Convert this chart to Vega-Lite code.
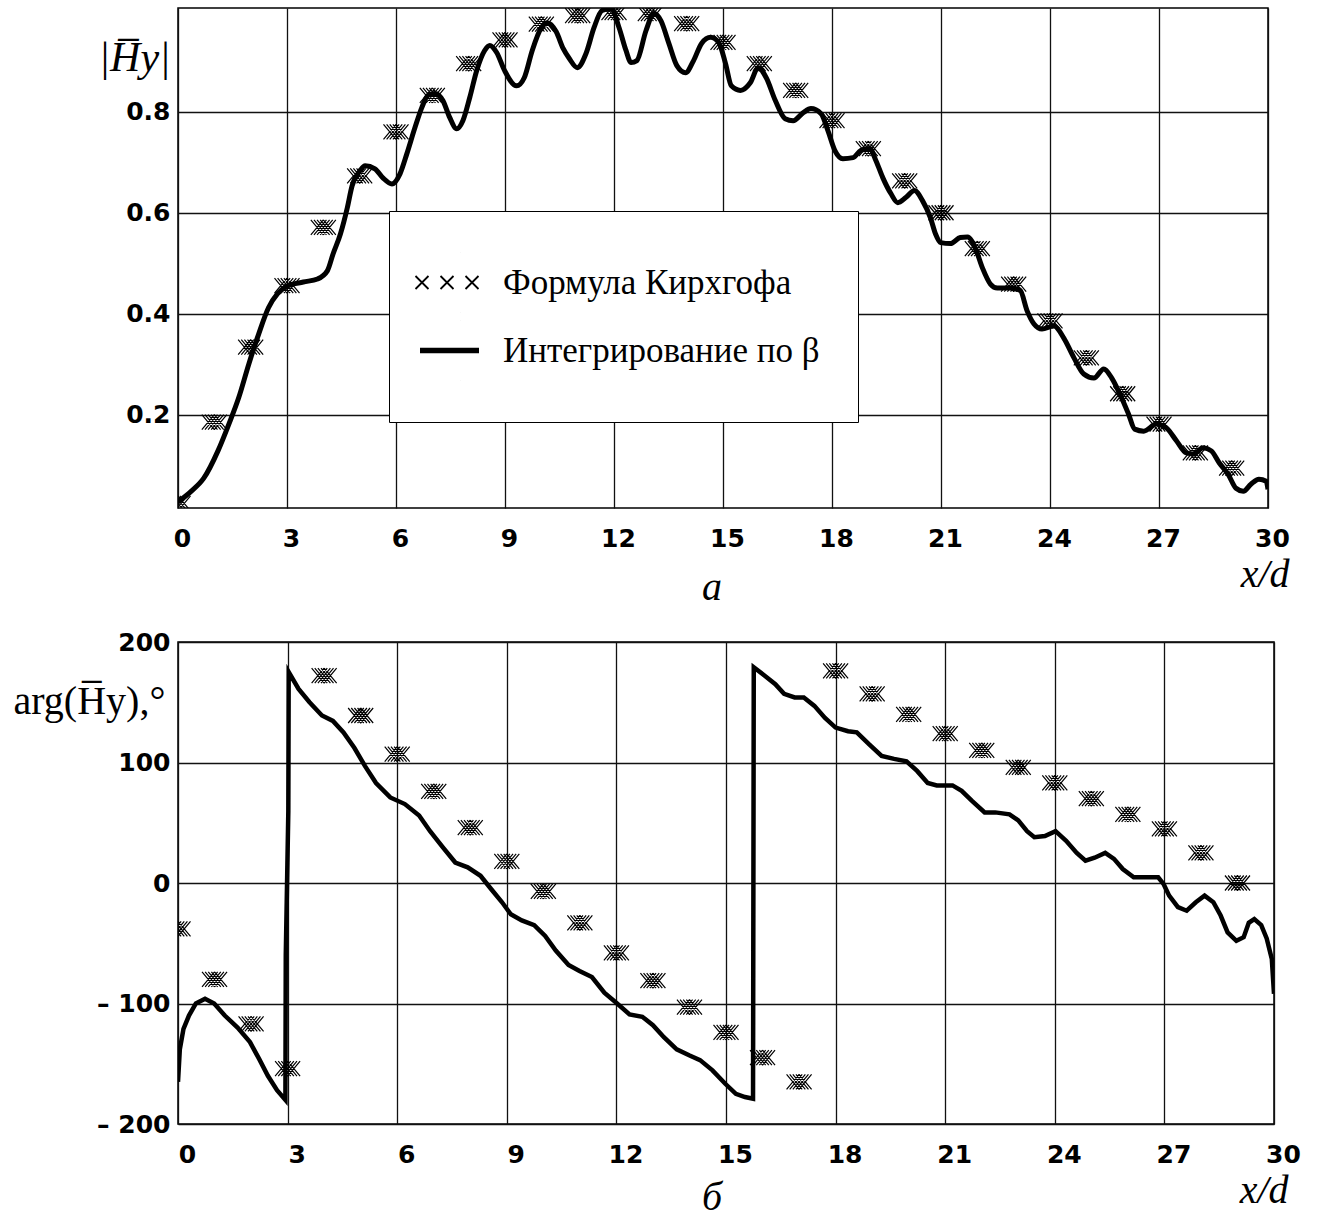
{
  "$schema": "https://vega.github.io/schema/vega-lite/v6.json",
  "background": "white",
  "padding": {"left": 12, "top": 7, "right": 5, "bottom": 0},
  "bounds": "flush",
  "spacing": 134,
  "datasets": {
    "kirch_top": [
      {"x": 0, "v": 0.025}, {"x": 1, "v": 0.186}, {"x": 2, "v": 0.334}, {"x": 3, "v": 0.456}, {"x": 4, "v": 0.571},
      {"x": 5, "v": 0.673}, {"x": 6, "v": 0.760}, {"x": 7, "v": 0.832}, {"x": 8, "v": 0.895}, {"x": 9, "v": 0.942},
      {"x": 10, "v": 0.973}, {"x": 11, "v": 0.990}, {"x": 12, "v": 0.996}, {"x": 13, "v": 0.994}, {"x": 14, "v": 0.974},
      {"x": 15, "v": 0.937}, {"x": 16, "v": 0.895}, {"x": 17, "v": 0.842}, {"x": 18, "v": 0.782}, {"x": 19, "v": 0.727},
      {"x": 20, "v": 0.663}, {"x": 21, "v": 0.600}, {"x": 22, "v": 0.529}, {"x": 23, "v": 0.459}, {"x": 24, "v": 0.386},
      {"x": 25, "v": 0.313}, {"x": 26, "v": 0.242}, {"x": 27, "v": 0.182}, {"x": 28, "v": 0.125}, {"x": 29, "v": 0.095}
    ],
    "curve_top": [
      {"x": 0.0, "v": 0.028}, {"x": 0.36, "v": 0.049}, {"x": 0.71, "v": 0.075}, {"x": 1.10, "v": 0.129}, {"x": 1.40, "v": 0.182},
      {"x": 1.67, "v": 0.234}, {"x": 1.95, "v": 0.301}, {"x": 2.22, "v": 0.360}, {"x": 2.49, "v": 0.412}, {"x": 2.74, "v": 0.440},
      {"x": 3.01, "v": 0.455}, {"x": 3.45, "v": 0.463}, {"x": 3.84, "v": 0.469}, {"x": 4.11, "v": 0.485}, {"x": 4.27, "v": 0.519},
      {"x": 4.47, "v": 0.558}, {"x": 4.66, "v": 0.610}, {"x": 4.79, "v": 0.653}, {"x": 5.01, "v": 0.683}, {"x": 5.15, "v": 0.693},
      {"x": 5.42, "v": 0.687}, {"x": 5.64, "v": 0.669}, {"x": 5.89, "v": 0.657}, {"x": 6.11, "v": 0.677}, {"x": 6.30, "v": 0.717},
      {"x": 6.52, "v": 0.768}, {"x": 6.71, "v": 0.808}, {"x": 6.88, "v": 0.832}, {"x": 7.07, "v": 0.836}, {"x": 7.29, "v": 0.822},
      {"x": 7.48, "v": 0.788}, {"x": 7.67, "v": 0.766}, {"x": 7.84, "v": 0.782}, {"x": 8.03, "v": 0.828}, {"x": 8.22, "v": 0.881},
      {"x": 8.44, "v": 0.921}, {"x": 8.58, "v": 0.931}, {"x": 8.77, "v": 0.917}, {"x": 8.99, "v": 0.881}, {"x": 9.32, "v": 0.851},
      {"x": 9.53, "v": 0.867}, {"x": 9.75, "v": 0.921}, {"x": 10.0, "v": 0.966}, {"x": 10.16, "v": 0.976}, {"x": 10.41, "v": 0.958},
      {"x": 10.6, "v": 0.925}, {"x": 10.77, "v": 0.905}, {"x": 10.99, "v": 0.887}, {"x": 11.23, "v": 0.915}, {"x": 11.45, "v": 0.966},
      {"x": 11.67, "v": 1.0}, {"x": 11.92, "v": 1.004}, {"x": 12.14, "v": 0.966}, {"x": 12.33, "v": 0.921}, {"x": 12.47, "v": 0.897},
      {"x": 12.63, "v": 0.901}, {"x": 12.88, "v": 0.960}, {"x": 13.10, "v": 0.994}, {"x": 13.29, "v": 0.980}, {"x": 13.51, "v": 0.935},
      {"x": 13.73, "v": 0.891}, {"x": 13.97, "v": 0.877}, {"x": 14.19, "v": 0.901}, {"x": 14.41, "v": 0.935}, {"x": 14.66, "v": 0.947},
      {"x": 14.88, "v": 0.937}, {"x": 15.07, "v": 0.895}, {"x": 15.23, "v": 0.851}, {"x": 15.48, "v": 0.842}, {"x": 15.75, "v": 0.857},
      {"x": 15.97, "v": 0.887}, {"x": 16.19, "v": 0.867}, {"x": 16.44, "v": 0.822}, {"x": 16.71, "v": 0.786}, {"x": 16.93, "v": 0.782},
      {"x": 17.21, "v": 0.798}, {"x": 17.42, "v": 0.806}, {"x": 17.70, "v": 0.796}, {"x": 17.89, "v": 0.762}, {"x": 18.08, "v": 0.723},
      {"x": 18.30, "v": 0.707}, {"x": 18.58, "v": 0.709}, {"x": 18.79, "v": 0.723}, {"x": 19.04, "v": 0.727}, {"x": 19.21, "v": 0.703},
      {"x": 19.40, "v": 0.669}, {"x": 19.62, "v": 0.638}, {"x": 19.81, "v": 0.620}, {"x": 20.03, "v": 0.630}, {"x": 20.27, "v": 0.644},
      {"x": 20.49, "v": 0.624}, {"x": 20.71, "v": 0.590}, {"x": 20.85, "v": 0.558}, {"x": 20.99, "v": 0.541}, {"x": 21.26, "v": 0.539},
      {"x": 21.53, "v": 0.551}, {"x": 21.73, "v": 0.552}, {"x": 21.95, "v": 0.529}, {"x": 22.14, "v": 0.491}, {"x": 22.36, "v": 0.459},
      {"x": 22.55, "v": 0.451}, {"x": 22.90, "v": 0.451}, {"x": 23.18, "v": 0.446}, {"x": 23.37, "v": 0.406}, {"x": 23.56, "v": 0.380},
      {"x": 23.78, "v": 0.370}, {"x": 24.11, "v": 0.376}, {"x": 24.38, "v": 0.352}, {"x": 24.66, "v": 0.313}, {"x": 24.93, "v": 0.281},
      {"x": 25.21, "v": 0.273}, {"x": 25.48, "v": 0.291}, {"x": 25.70, "v": 0.273}, {"x": 25.92, "v": 0.242}, {"x": 26.16, "v": 0.202},
      {"x": 26.33, "v": 0.172}, {"x": 26.58, "v": 0.168}, {"x": 26.93, "v": 0.182}, {"x": 27.21, "v": 0.174}, {"x": 27.48, "v": 0.149},
      {"x": 27.75, "v": 0.125}, {"x": 27.95, "v": 0.123}, {"x": 28.22, "v": 0.135}, {"x": 28.44, "v": 0.129}, {"x": 28.66, "v": 0.105},
      {"x": 28.90, "v": 0.083}, {"x": 29.12, "v": 0.055}, {"x": 29.32, "v": 0.049}, {"x": 29.53, "v": 0.063}, {"x": 29.75, "v": 0.073},
      {"x": 29.95, "v": 0.069}, {"x": 30.0, "v": 0.053}
    ],
    "kirch_bot": [
      {"x": 0, "v": -38}, {"x": 1, "v": -80}, {"x": 2, "v": -117}, {"x": 3, "v": -154}, {"x": 4, "v": 172},
      {"x": 5, "v": 139}, {"x": 6, "v": 107}, {"x": 7, "v": 76}, {"x": 8, "v": 46}, {"x": 9, "v": 18},
      {"x": 10, "v": -7}, {"x": 11, "v": -33}, {"x": 12, "v": -58}, {"x": 13, "v": -81}, {"x": 14, "v": -103},
      {"x": 15, "v": -124}, {"x": 16, "v": -145}, {"x": 17, "v": -165}, {"x": 18, "v": 176}, {"x": 19, "v": 157},
      {"x": 20, "v": 140}, {"x": 21, "v": 124}, {"x": 22, "v": 110}, {"x": 23, "v": 96}, {"x": 24, "v": 83},
      {"x": 25, "v": 70}, {"x": 26, "v": 57}, {"x": 27, "v": 45}, {"x": 28, "v": 25}, {"x": 29, "v": 0}
    ],
    "curve_bot": [
      {"x": 0.0, "v": -165}, {"x": 0.05, "v": -138}, {"x": 0.15, "v": -121}, {"x": 0.3, "v": -110}, {"x": 0.49, "v": -100},
      {"x": 0.74, "v": -96}, {"x": 0.99, "v": -100}, {"x": 1.28, "v": -110}, {"x": 1.63, "v": -120}, {"x": 1.97, "v": -132},
      {"x": 2.22, "v": -146}, {"x": 2.46, "v": -160}, {"x": 2.71, "v": -172}, {"x": 2.94, "v": -180}, {"x": 2.95, "v": -60},
      {"x": 3.02, "v": 60}, {"x": 3.03, "v": 175}, {"x": 3.3, "v": 161}, {"x": 3.6, "v": 150}, {"x": 3.94, "v": 139},
      {"x": 4.24, "v": 134.5}, {"x": 4.53, "v": 125}, {"x": 4.83, "v": 112}, {"x": 5.12, "v": 97}, {"x": 5.42, "v": 83},
      {"x": 5.81, "v": 71}, {"x": 6.21, "v": 65.5}, {"x": 6.6, "v": 56}, {"x": 6.9, "v": 43}, {"x": 7.24, "v": 30},
      {"x": 7.59, "v": 17}, {"x": 7.93, "v": 13}, {"x": 8.28, "v": 6}, {"x": 8.57, "v": -5}, {"x": 8.87, "v": -16},
      {"x": 9.11, "v": -26}, {"x": 9.41, "v": -31}, {"x": 9.75, "v": -35}, {"x": 10.05, "v": -44}, {"x": 10.34, "v": -56},
      {"x": 10.69, "v": -68}, {"x": 10.99, "v": -73}, {"x": 11.33, "v": -78}, {"x": 11.67, "v": -91}, {"x": 12.02, "v": -100},
      {"x": 12.36, "v": -109}, {"x": 12.71, "v": -111}, {"x": 13.0, "v": -118}, {"x": 13.3, "v": -128}, {"x": 13.65, "v": -138},
      {"x": 13.99, "v": -143}, {"x": 14.29, "v": -147}, {"x": 14.63, "v": -155.5}, {"x": 14.98, "v": -166.6}, {"x": 15.27, "v": -175},
      {"x": 15.52, "v": -177.6}, {"x": 15.74, "v": -179}, {"x": 15.76, "v": 179}, {"x": 16.06, "v": 172}, {"x": 16.35, "v": 165},
      {"x": 16.59, "v": 157}, {"x": 16.88, "v": 154}, {"x": 17.13, "v": 154}, {"x": 17.42, "v": 147}, {"x": 17.71, "v": 137},
      {"x": 18.0, "v": 129}, {"x": 18.34, "v": 126}, {"x": 18.58, "v": 125}, {"x": 18.92, "v": 115}, {"x": 19.26, "v": 105.5},
      {"x": 19.6, "v": 103}, {"x": 19.94, "v": 101}, {"x": 20.23, "v": 93}, {"x": 20.52, "v": 83}, {"x": 20.77, "v": 81},
      {"x": 21.2, "v": 81}, {"x": 21.45, "v": 76.5}, {"x": 21.74, "v": 68}, {"x": 22.08, "v": 58.6}, {"x": 22.37, "v": 58.6},
      {"x": 22.76, "v": 57}, {"x": 23.0, "v": 52}, {"x": 23.24, "v": 43}, {"x": 23.44, "v": 38}, {"x": 23.73, "v": 39},
      {"x": 24.02, "v": 43}, {"x": 24.31, "v": 35}, {"x": 24.6, "v": 25}, {"x": 24.84, "v": 18.5}, {"x": 25.09, "v": 21},
      {"x": 25.38, "v": 25}, {"x": 25.62, "v": 20}, {"x": 25.86, "v": 11.6}, {"x": 26.16, "v": 4.7}, {"x": 26.4, "v": 4.7},
      {"x": 26.83, "v": 4.7}, {"x": 26.98, "v": -1}, {"x": 27.13, "v": -10.5}, {"x": 27.37, "v": -20}, {"x": 27.61, "v": -23},
      {"x": 27.86, "v": -16}, {"x": 28.1, "v": -10.5}, {"x": 28.34, "v": -16}, {"x": 28.54, "v": -27}, {"x": 28.73, "v": -41},
      {"x": 28.97, "v": -48}, {"x": 29.17, "v": -45}, {"x": 29.31, "v": -33}, {"x": 29.46, "v": -30}, {"x": 29.65, "v": -35},
      {"x": 29.8, "v": -46}, {"x": 29.94, "v": -63}, {"x": 30.0, "v": -92}
    ],
    "legend_rows": [
      {"series": "Формула Кирхгофа"},
      {"series": "Интегрирование по β"}
    ]
  },
  "vconcat": [
    {
      "width": 1090,
      "height": 500,
      "title": {"text": "а", "orient": "bottom", "anchor": "middle", "font": "Liberation Serif", "fontSize": 40, "fontStyle": "italic", "fontWeight": "normal", "color": "black", "baseline": "alphabetic", "offset": 6, "dx": -11},
      "layer": [
        {
          "data": {"name": "curve_top"},
          "mark": {"type": "line", "stroke": "black", "strokeWidth": 5, "clip": true, "interpolate": "monotone"},
          "encoding": {
            "x": {"field": "x", "type": "quantitative", "scale": {"domain": [0, 30], "nice": false, "zero": false},
              "axis": {"values": [0, 3, 6, 9, 12, 15, 18, 21, 24, 27, 30], "title": "x/d", "titleAnchor": "end", "titleAlign": "right", "titleX": 1111, "titleY": 78, "titleBaseline": "alphabetic", "titleFontStyle": "italic", "titleFontSize": 40, "labelOffset": 4, "labelPadding": 18}},
            "y": {"field": "v", "type": "quantitative", "scale": {"domain": [0.016, 1.005], "nice": false, "zero": false},
              "axis": {"values": [0.2, 0.4, 0.6, 0.8], "format": ".1f", "title": "|H̅y|", "titleAngle": 0, "titleAlign": "left", "titleBaseline": "alphabetic", "titleX": -80, "titleY": 62, "titleFontStyle": "italic", "titleFontSize": 42, "labelPadding": 8}}
          }
        },
        {
          "data": {"name": "kirch_top"},
          "mark": {"type": "point", "shape": "M-1,-0.6L0,0.6M-1,0.6L0,-0.6M-0.75,-0.6L0.25,0.6M-0.75,0.6L0.25,-0.6M-0.5,-0.6L0.5,0.6M-0.5,0.6L0.5,-0.6M-0.25,-0.6L0.75,0.6M-0.25,0.6L0.75,-0.6M0,-0.6L1,0.6M0,0.6L1,-0.6", "size": 625, "filled": false, "stroke": "black", "strokeWidth": 1.2, "opacity": 1, "clip": true},
          "encoding": {
            "x": {"field": "x", "type": "quantitative"},
            "y": {"field": "v", "type": "quantitative"}
          }
        },
        {
          "data": {"name": "legend_rows"},
          "mark": {"type": "point", "filled": false, "color": "black", "strokeWidth": 1.8, "opacity": 1},
          "encoding": {
            "x": {"field": "x", "type": "quantitative"},
            "y": {"field": "v", "type": "quantitative"},
            "shape": {"field": "series", "type": "nominal",
              "scale": {"domain": ["Формула Кирхгофа", "Интегрирование по β"],
                "range": ["M-1.385,-0.2L-0.985,0.2M-1.385,0.2L-0.985,-0.2M-0.615,-0.2L-0.215,0.2M-0.615,0.2L-0.215,-0.2M0.154,-0.2L0.554,0.2M0.154,0.2L0.554,-0.2M0,-0.91L0.001,-0.91M0,0.91L0.001,0.91", "M-1.246,-0.055H0.569M-1.246,-0.018H0.569M-1.246,0.018H0.569M-1.246,0.055H0.569M0,-0.91L0.001,-0.91M0,0.91L0.001,0.91"]},
              "legend": {"title": null, "orient": "none", "legendX": 211, "legendY": 203, "direction": "vertical", "padding": 38, "strokeColor": "black", "fillColor": "white", "symbolSize": 4225, "symbolStrokeWidth": 1.8, "symbolFillColor": "transparent", "symbolStrokeColor": "black", "symbolOpacity": 1, "labelFont": "Liberation Serif", "labelFontSize": 35, "labelFontWeight": "normal", "labelColor": "black", "labelOffset": 9, "rowPadding": 1, "labelLimit": 600}}
          }
        }
      ]
    },
    {
      "width": 1096,
      "height": 482,
      "title": {"text": "б", "orient": "bottom", "anchor": "middle", "font": "Liberation Serif", "fontSize": 40, "fontStyle": "italic", "fontWeight": "normal", "color": "black", "baseline": "alphabetic", "offset": 0, "dx": -14},
      "layer": [
        {
          "data": {"name": "curve_bot"},
          "mark": {"type": "line", "stroke": "black", "strokeWidth": 4.5, "clip": true},
          "encoding": {
            "x": {"field": "x", "type": "quantitative", "scale": {"domain": [0, 30], "nice": false, "zero": false},
              "axis": {"values": [0, 3, 6, 9, 12, 15, 18, 21, 24, 27, 30], "title": "x/d", "titleAnchor": "end", "titleAlign": "right", "titleX": 1110, "titleY": 78, "titleBaseline": "alphabetic", "titleFontStyle": "italic", "titleFontSize": 40, "labelOffset": 9, "labelPadding": 18}},
            "y": {"field": "v", "type": "quantitative", "scale": {"domain": [-200, 200], "nice": false, "zero": false},
              "axis": {"values": [-200, -100, 0, 100, 200], "labelExpr": "datum.value < 0 ? '– ' + abs(datum.value) : datum.label", "title": "arg(H̅y),°", "titleAngle": 0, "titleAlign": "left", "titleBaseline": "alphabetic", "titleX": -165, "titleY": 71, "titleFontStyle": "normal", "titleFontSize": 40, "labelPadding": 8}}
          }
        },
        {
          "data": {"name": "kirch_bot"},
          "mark": {"type": "point", "shape": "M-1,-0.6L0,0.6M-1,0.6L0,-0.6M-0.75,-0.6L0.25,0.6M-0.75,0.6L0.25,-0.6M-0.5,-0.6L0.5,0.6M-0.5,0.6L0.5,-0.6M-0.25,-0.6L0.75,0.6M-0.25,0.6L0.75,-0.6M0,-0.6L1,0.6M0,0.6L1,-0.6", "size": 625, "filled": false, "stroke": "black", "strokeWidth": 1.2, "opacity": 1, "clip": true},
          "encoding": {
            "x": {"field": "x", "type": "quantitative"},
            "y": {"field": "v", "type": "quantitative"}
          }
        }
      ]
    }
  ],
  "config": {
    "font": "Liberation Serif",
    "view": {"stroke": "black", "strokeWidth": 1.5},
    "axis": {
      "grid": true, "gridColor": "#111111", "gridWidth": 1.3, "gridOpacity": 1,
      "domain": false, "ticks": false,
      "labelFont": "DejaVu Sans", "labelFontWeight": "bold", "labelFontSize": 25, "labelColor": "black",
      "labelOverlap": false, "labelFlush": false,
      "titleFont": "Liberation Serif", "titleFontWeight": "normal", "titleColor": "black"
    }
  }
}
